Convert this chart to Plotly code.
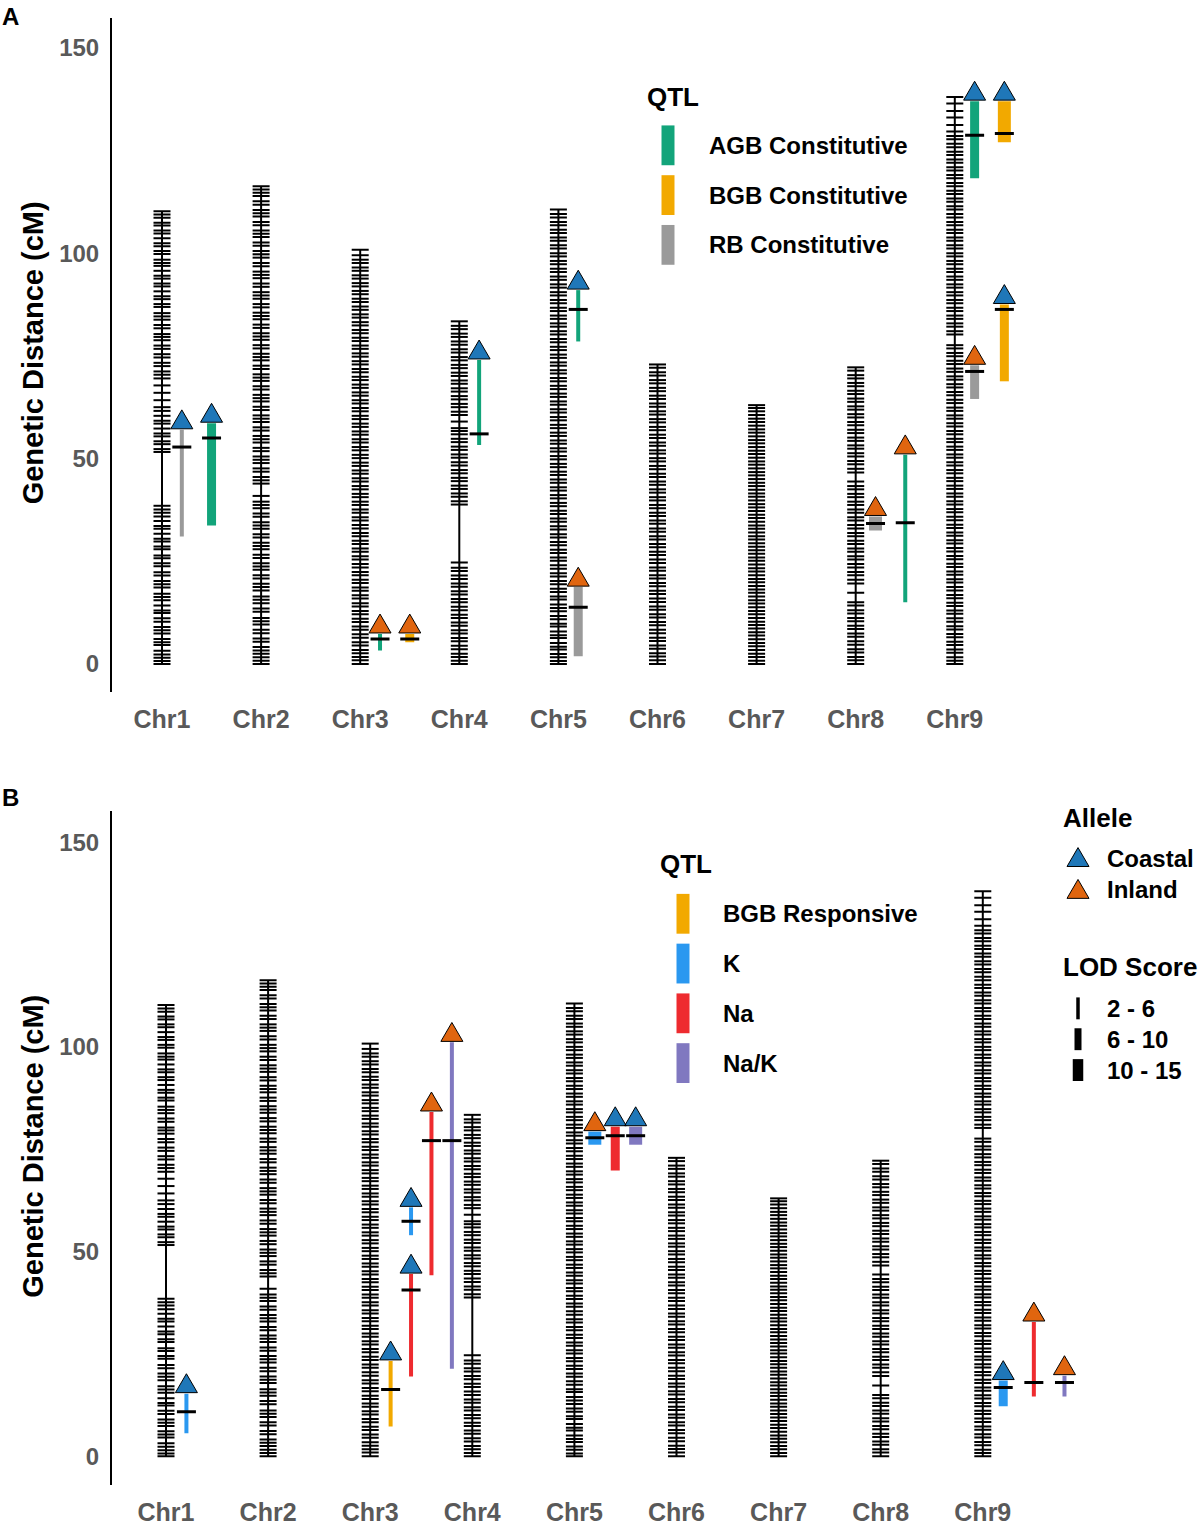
import plotly.graph_objects as go

CANVAS_W, CANVAS_H = 1199, 1526

# ---------------- data ----------------
chromosome_names = ["Chr1", "Chr2", "Chr3", "Chr4", "Chr5", "Chr6", "Chr7", "Chr8", "Chr9"]

chr1_markers = [0, 0.7, 1.5, 2.3, 3.2, 4.6, 5.3, 6.1, 7.4, 8.2, 9.0, 10.3, 11.1, 12.4, 13.0, 14.2, 15.5, 16.3,
                17.1, 18.6, 19.4, 20.2, 21.5, 22.3, 23.8, 24.5, 25.7, 26.4, 27.9, 28.6, 29.8, 30.5, 31.7, 32.9,
                33.6, 34.8, 35.9, 36.8, 37.6, 38.5, 51.6, 52.3, 53.5, 54.2, 55.4, 56.1, 57.3, 58.5, 59.2, 60.4,
                61.6, 62.5, 64.2, 66.0, 67.8, 69.5, 70.4, 71.2, 72.5, 73.3, 74.6, 75.4, 76.7, 77.5, 78.8, 79.6,
                80.3, 81.7, 82.5, 83.8, 84.6, 85.4, 86.9, 87.6, 88.8, 89.5, 90.7, 91.9, 92.6, 93.8, 94.5, 95.7,
                96.9, 97.6, 98.4, 99.8, 100.5, 101.7, 102.4, 103.6, 104.8, 105.5, 106.7, 107.4, 108.6, 109.4, 110.2]
chr2_markers = [0, 0.8, 1.6, 2.5, 3.3, 4.1, 5.4, 6.2, 7.5, 8.3, 9.6, 10.4, 11.2, 12.7, 13.5, 14.8, 15.6, 16.4,
                17.9, 18.7, 19.5, 20.8, 21.6, 22.9, 23.7, 24.5, 25.8, 26.6, 27.9, 28.7, 29.5, 30.8, 31.6, 32.9,
                33.7, 34.5, 35.8, 36.6, 37.9, 38.7, 39.5, 40.9, 43.9, 44.7, 45.5, 46.8, 47.6, 48.9, 49.7, 50.5,
                51.8, 52.6, 53.9, 54.7, 55.5, 56.8, 57.6, 58.9, 59.7, 60.5, 61.8, 62.6, 63.9, 64.7, 65.5, 66.8,
                67.6, 68.9, 69.7, 70.5, 71.8, 72.6, 73.9, 74.7, 75.5, 76.8, 77.6, 78.9, 79.7, 80.5, 81.8, 82.6,
                83.9, 84.7, 85.5, 86.8, 87.6, 88.9, 89.7, 90.5, 91.8, 92.6, 93.9, 94.7, 95.5, 96.8, 97.6, 98.9,
                99.7, 100.5, 101.8, 102.6, 103.9, 104.7, 105.5, 106.8, 107.6, 108.9, 109.7, 110.5, 111.8, 112.6,
                113.9, 114.7, 115.5, 116.3]
chr3_markers = [0, 0.9, 1.7, 2.6, 3.4, 4.5, 5.3, 6.4, 7.2, 8.3, 9.1, 10.2, 11.0, 12.1, 12.9, 14.0, 14.8, 15.9,
                16.7, 17.8, 18.6, 19.7, 20.5, 21.6, 22.4, 23.5, 24.3, 25.4, 26.2, 27.3, 28.1, 29.2, 30.0, 31.1,
                31.9, 33.0, 33.8, 34.9, 35.7, 36.8, 37.6, 38.7, 39.5, 40.6, 41.4, 42.5, 43.3, 44.4, 45.2, 46.3,
                47.1, 48.2, 49.0, 50.1, 50.9, 52.0, 52.8, 53.9, 54.7, 55.8, 56.6, 57.7, 58.5, 59.6, 60.4, 61.5,
                62.3, 63.4, 64.2, 65.3, 66.1, 67.2, 68.0, 69.1, 69.9, 71.0, 71.8, 72.9, 73.7, 74.8, 75.6, 76.7,
                77.5, 78.6, 79.4, 80.5, 81.3, 82.4, 83.2, 84.3, 85.1, 86.2, 87.0, 88.1, 88.9, 90.0, 90.8, 91.9,
                92.7, 93.8, 94.6, 95.7, 96.5, 97.6, 98.4, 99.5, 100.8]
chr4_markers = [0, 0.8, 1.7, 2.5, 3.6, 4.4, 5.5, 6.3, 7.4, 8.2, 9.3, 10.1, 11.2, 12.0, 13.1, 13.9, 15.0, 15.8,
                16.9, 17.7, 18.8, 19.6, 20.7, 21.5, 22.6, 23.4, 24.7, 38.8, 39.6, 40.7, 41.5, 42.6, 43.4, 44.5,
                45.3, 46.4, 47.2, 48.3, 49.1, 50.2, 51.0, 52.1, 52.9, 54.0, 54.8, 55.9, 56.7, 57.4, 59.0, 60.6,
                61.4, 62.5, 63.3, 64.4, 65.2, 66.3, 67.1, 68.2, 69.0, 70.1, 70.9, 72.0, 72.8, 73.9, 74.7, 75.8,
                76.6, 77.7, 78.5, 79.6, 80.4, 81.5, 82.3, 83.4]
chr5_markers = [0, 0.7, 1.6, 2.4, 3.5, 4.2, 5.1, 6.3, 7.0, 7.9, 9.1, 9.8, 10.9, 11.7, 12.8, 13.6, 14.5, 15.7,
                16.4, 17.5, 18.3, 19.4, 20.2, 21.3, 22.1, 23.2, 24.0, 25.1, 25.9, 27.0, 27.8, 28.9, 29.7, 30.8,
                31.6, 32.7, 33.5, 34.6, 35.4, 36.5, 37.3, 38.4, 39.2, 40.3, 41.1, 42.2, 43.0, 44.1, 44.9, 46.0,
                46.8, 47.9, 48.7, 49.8, 50.6, 51.7, 52.5, 53.6, 54.4, 55.5, 56.3, 57.4, 58.2, 59.3, 60.1, 61.2,
                62.0, 63.1, 63.9, 65.0, 65.8, 66.9, 67.7, 68.8, 69.6, 70.7, 71.5, 72.6, 73.4, 74.5, 75.3, 76.4,
                77.2, 78.3, 79.1, 80.2, 81.0, 82.1, 82.9, 84.0, 84.8, 85.9, 86.7, 87.8, 88.6, 89.7, 90.5, 91.6,
                92.4, 93.5, 94.3, 95.4, 96.2, 97.3, 98.1, 99.2, 100.0, 101.1, 101.9, 103.0, 103.8, 104.9, 105.7,
                106.8, 107.6, 108.7, 109.5, 110.6]
chr6_markers = [0, 0.9, 1.8, 2.6, 3.7, 4.5, 5.6, 6.4, 7.5, 8.3, 9.4, 10.2, 11.3, 12.1, 13.2, 14.0, 15.1, 15.9,
                17.0, 17.8, 18.9, 19.7, 20.8, 21.6, 22.7, 23.5, 24.6, 25.4, 26.5, 27.3, 28.4, 29.2, 30.3, 31.1,
                32.2, 33.0, 34.1, 34.9, 36.0, 36.8, 37.9, 38.7, 39.8, 40.6, 41.7, 42.5, 43.6, 44.4, 45.5, 46.3,
                47.4, 48.2, 49.3, 50.1, 51.2, 52.0, 53.1, 53.9, 55.0, 55.8, 56.9, 57.7, 58.8, 59.6, 60.7, 61.5,
                62.6, 63.4, 64.5, 65.3, 66.4, 67.2, 68.3, 69.1, 70.2, 71.0, 72.1, 72.9]
chr7_markers = [0, 0.8, 1.7, 2.5, 3.4, 4.3, 5.1, 6.0, 6.9, 7.7, 8.6, 9.5, 10.3, 11.2, 12.1, 12.9, 13.8, 14.7,
                15.5, 16.4, 17.3, 18.1, 19.0, 19.9, 20.7, 21.6, 22.5, 23.3, 24.2, 25.1, 25.9, 26.8, 27.7, 28.5,
                29.4, 30.3, 31.1, 32.0, 32.9, 33.7, 34.6, 35.5, 36.3, 37.2, 38.1, 38.9, 39.8, 40.7, 41.5, 42.4,
                43.3, 44.1, 45.0, 45.9, 46.7, 47.6, 48.5, 49.3, 50.2, 51.1, 51.9, 52.8, 53.7, 54.5, 55.4, 56.3,
                57.1, 58.0, 58.9, 59.7, 60.6, 61.5, 62.3, 63.0]
chr8_markers = [0, 0.9, 1.7, 2.8, 3.6, 4.7, 5.5, 6.6, 7.4, 8.5, 9.3, 10.4, 11.2, 12.3, 13.1, 14.2, 15.0, 17.3,
                19.6, 20.5, 21.6, 22.4, 23.5, 24.3, 25.4, 26.2, 27.3, 28.1, 29.2, 30.0, 31.1, 31.9, 33.0, 33.8,
                34.9, 35.7, 36.8, 37.6, 38.7, 39.5, 40.6, 41.4, 42.5, 43.3, 44.4, 46.6, 47.5, 48.6, 49.4, 50.5,
                51.3, 52.4, 53.2, 54.3, 55.1, 56.2, 57.0, 58.1, 58.9, 60.0, 60.8, 61.9, 62.7, 63.8, 64.6, 65.7,
                66.5, 67.6, 68.4, 69.5, 70.3, 71.4, 72.2]
chr9_markers = [0, 0.8, 1.6, 2.7, 3.5, 4.6, 5.4, 6.5, 7.3, 8.4, 9.2, 10.3, 11.1, 12.2, 13.0, 14.1, 14.9, 16.0,
                16.8, 17.9, 18.7, 19.8, 20.6, 21.7, 22.5, 23.6, 24.4, 25.5, 26.3, 27.4, 28.2, 29.3, 30.1, 31.2,
                32.0, 33.1, 33.9, 35.0, 35.8, 36.9, 37.7, 38.8, 39.6, 40.7, 41.5, 42.6, 43.4, 44.5, 45.3, 46.4,
                47.2, 48.3, 49.1, 50.2, 51.0, 52.1, 52.9, 54.0, 54.8, 55.9, 56.7, 57.8, 58.6, 59.7, 60.5, 61.6,
                62.4, 63.5, 64.3, 65.4, 66.2, 67.3, 68.1, 69.2, 70.0, 71.1, 71.9, 73.0, 73.8, 74.9, 75.7, 76.8,
                77.6, 80.2, 81.0, 82.1, 82.9, 84.0, 84.8, 85.9, 86.7, 87.8, 88.6, 89.7, 90.5, 91.6, 92.4, 93.5,
                94.3, 95.4, 96.2, 97.3, 98.1, 99.2, 100.0, 101.1, 101.9, 103.0, 103.8, 104.9, 105.7, 106.8,
                107.6, 108.7, 109.5, 110.6, 111.4, 112.5, 113.3, 114.4, 115.2, 116.3, 117.1, 118.2, 119.0,
                120.1, 120.9, 122.0, 122.8, 123.9, 124.7, 125.8, 126.6, 127.7, 128.5, 129.6, 131.2, 133.0,
                134.6, 136.4, 138.0]
all_markers = [chr1_markers, chr2_markers, chr3_markers, chr4_markers, chr5_markers,
               chr6_markers, chr7_markers, chr8_markers, chr9_markers]

# Panel A QTL (constitutive)
qtlA_chrom = [1, 1, 3, 3, 4, 5, 5, 8, 8, 9, 9, 9, 9]
qtlA_lane = [1, 2, 1, 2, 1, 1, 1, 1, 2, 1, 2, 1, 2]
qtlA_trait = ["RB", "AGB", "AGB", "BGB", "AGB", "AGB", "RB", "RB", "AGB", "AGB", "BGB", "RB", "BGB"]
qtlA_allele = ["Coastal", "Coastal", "Inland", "Inland", "Coastal", "Coastal", "Inland", "Inland", "Inland",
               "Coastal", "Coastal", "Inland", "Coastal"]
qtlA_low = [31.0, 33.7, 3.3, 5.3, 53.3, 78.5, 1.9, 32.5, 15.0, 118.2, 127.0, 64.5, 68.8]
qtlA_high = [57.0, 58.6, 7.3, 7.3, 74.0, 91.0, 18.7, 35.9, 50.9, 137.0, 137.0, 72.7, 87.5]
qtlA_peak = [52.8, 55.0, 6.1, 6.1, 56.0, 86.3, 13.8, 34.2, 34.4, 128.7, 129.1, 71.2, 86.3]
qtlA_lod = ["2 - 6", "6 - 10", "2 - 6", "6 - 10", "2 - 6", "2 - 6", "6 - 10", "10 - 15", "2 - 6",
            "6 - 10", "10 - 15", "6 - 10", "6 - 10"]

# Panel B QTL (responsive / ions)
qtlB_chrom = [1, 3, 3, 3, 3, 3, 5, 5, 5, 9, 9, 9]
qtlB_lane = [1, 1, 2, 2, 3, 4, 1, 2, 3, 1, 2.5, 4]
qtlB_trait = ["K", "BGB", "K", "Na", "Na", "Na/K", "K", "Na", "Na/K", "K", "Na", "Na/K"]
qtlB_allele = ["Coastal", "Coastal", "Coastal", "Coastal", "Inland", "Inland", "Inland", "Coastal", "Coastal",
               "Coastal", "Inland", "Inland"]
qtlB_low = [5.6, 7.3, 54.0, 19.5, 44.2, 21.4, 76.1, 69.8, 76.1, 12.2, 14.6, 14.6]
qtlB_high = [15.3, 23.3, 60.8, 44.5, 84.1, 101.1, 79.3, 80.5, 80.5, 18.5, 32.8, 19.7]
qtlB_peak = [10.9, 16.3, 57.4, 40.6, 77.1, 77.1, 77.8, 78.3, 78.3, 16.8, 18.0, 18.0]
qtlB_lod = ["2 - 6", "2 - 6", "2 - 6", "2 - 6", "2 - 6", "2 - 6", "10 - 15", "6 - 10", "10 - 15",
            "6 - 10", "2 - 6", "2 - 6"]

legendA_traits = ["AGB", "BGB", "RB"]
legendA_labels = ["AGB Constitutive", "BGB Constitutive", "RB Constitutive"]
legendB_traits = ["BGB", "K", "Na", "Na/K"]
legendB_labels = ["BGB Responsive", "K", "Na", "Na/K"]
allele_labels = ["Coastal", "Inland"]
lod_labels = ["2 - 6", "6 - 10", "10 - 15"]
y_ticks = [0, 50, 100, 150]

# ---------------- styles ----------------
trait_colors = {"AGB": "#12A47A", "BGB": "#F2A900", "RB": "#9A9A9A",
                "K": "#2A98F0", "Na": "#EE2B2F", "Na/K": "#8078C0"}
allele_colors = {"Coastal": "#1F77B8", "Inland": "#E0650F"}
lod_width_px = {"2 - 6": 4, "6 - 10": 9, "10 - 15": 13}
lod_legend_w = {"2 - 6": 3.5, "6 - 10": 7, "10 - 15": 10.5}
FONT = "Liberation Sans, Arial, sans-serif"

# panel geometry (pixels on the canvas)
geom = {
    "A": dict(xa="x", ya="y", left=112, right=1199, top=18, bottom=695, chr1=162, unit=99.1,
              zero=667, cm=4.127, lane0=0.2, lane_step=0.3),
    "B": dict(xa="x2", ya="y2", left=112, right=1199, top=815, bottom=1492, chr1=166, unit=102.1,
              zero=1463, cm=4.113, lane0=0.2, lane_step=0.2),
}


def px(x):
    return x / CANVAS_W


def py(y):
    return 1 - y / CANVAS_H


fig = go.Figure()


def add_panel(g, chrom, lane, trait, allele, low, high, peak, lod):
    xa, ya = g["xa"], g["ya"]
    # chromosomes: backbone + marker ticks
    bx, by, tx, ty = [], [], [], []
    hw = 8.5 / g["unit"]
    for i, mk in enumerate(all_markers):
        c = i + 1
        bx += [c, c, None]
        by += [min(mk), max(mk), None]
        for m in mk:
            tx += [c - hw, c + hw, None]
            ty += [m, m, None]
    fig.add_trace(go.Scatter(x=bx, y=by, mode="lines", line=dict(color="black", width=2),
                             xaxis=xa, yaxis=ya, hoverinfo="skip", showlegend=False))
    fig.add_trace(go.Scatter(x=tx, y=ty, mode="lines", line=dict(color="black", width=2),
                             xaxis=xa, yaxis=ya, hoverinfo="skip", showlegend=False))
    # QTL bars
    xs = [c + g["lane0"] + g["lane_step"] * (l - 1) for c, l in zip(chrom, lane)]
    for x, t, lo, hi, w in zip(xs, trait, low, high, lod):
        fig.add_trace(go.Scatter(x=[x, x], y=[lo, hi], mode="lines",
                                 line=dict(color=trait_colors[t], width=lod_width_px[w]),
                                 xaxis=xa, yaxis=ya, hoverinfo="skip", showlegend=False))
    # peak markers
    pw = 9.5 / g["unit"]
    pkx, pky = [], []
    for x, p in zip(xs, peak):
        pkx += [x - pw, x + pw, None]
        pky += [p, p, None]
    fig.add_trace(go.Scatter(x=pkx, y=pky, mode="lines", line=dict(color="black", width=3),
                             xaxis=xa, yaxis=ya, hoverinfo="skip", showlegend=False))
    # allele triangles
    thw = 11 / g["unit"]
    th = 19 / g["cm"]
    gap = 1.0 / g["cm"]
    for al in allele_labels:
        trx, tr_y = [], []
        for x, a, hi in zip(xs, allele, high):
            if a != al:
                continue
            yb = hi + gap
            trx += [x - thw, x + thw, x, x - thw, None]
            tr_y += [yb, yb, yb + th, yb, None]
        fig.add_trace(go.Scatter(x=trx, y=tr_y, mode="lines", fill="toself",
                                 fillcolor=allele_colors[al], line=dict(color="black", width=1),
                                 xaxis=xa, yaxis=ya, hoverinfo="skip", showlegend=False))


add_panel(geom["A"], qtlA_chrom, qtlA_lane, qtlA_trait, qtlA_allele, qtlA_low, qtlA_high, qtlA_peak, qtlA_lod)
add_panel(geom["B"], qtlB_chrom, qtlB_lane, qtlB_trait, qtlB_allele, qtlB_low, qtlB_high, qtlB_peak, qtlB_lod)


def axis_layout(g):
    xr = [1 - (g["chr1"] - g["left"]) / g["unit"], 1 + (g["right"] - g["chr1"]) / g["unit"]]
    yr = [-(g["bottom"] - g["zero"]) / g["cm"], (g["zero"] - g["top"]) / g["cm"]]
    xaxis = dict(domain=[px(g["left"]), px(g["right"])], range=xr, showgrid=False, zeroline=False,
                 showline=False, ticks="", tickvals=list(range(1, 10)), ticktext=chromosome_names,
                 tickfont=dict(family=FONT, size=25, color="#595959", weight="bold"),
                 ticklabelstandoff=10, fixedrange=True)
    yaxis = dict(domain=[py(g["bottom"]), py(g["top"])], range=yr, showgrid=False, zeroline=False,
                 showline=True, linecolor="black", linewidth=2, ticks="", tickvals=y_ticks,
                 tickfont=dict(family=FONT, size=24, color="#595959", weight="bold"),
                 ticklabelstandoff=6, fixedrange=True)
    return xaxis, yaxis


xA, yA = axis_layout(geom["A"])
xB, yB = axis_layout(geom["B"])
xB["anchor"] = "y2"
yB["anchor"] = "x2"
xA["anchor"] = "y"
yA["anchor"] = "x"

shapes = []
annotations = []


def text(x, y, s, size, color="black", anchor="left", angle=0):
    annotations.append(dict(x=px(x), y=py(y), xref="paper", yref="paper", text=s, showarrow=False,
                            xanchor=anchor, yanchor="middle", textangle=angle,
                            font=dict(family=FONT, size=size, color=color, weight="bold")))


def rect(cx, cy, w, h, color):
    shapes.append(dict(type="rect", xref="paper", yref="paper", x0=px(cx - w / 2), x1=px(cx + w / 2),
                       y0=py(cy + h / 2), y1=py(cy - h / 2), fillcolor=color, line=dict(width=0)))


def tri(cx, cy, w, h, color):
    path = "M {} {} L {} {} L {} {} Z".format(px(cx - w / 2), py(cy + h / 2), px(cx + w / 2), py(cy + h / 2),
                                             px(cx), py(cy - h / 2))
    shapes.append(dict(type="path", xref="paper", yref="paper", path=path, fillcolor=color,
                       line=dict(color="black", width=1)))


# panel letters and axis titles
text(0, 17, "A", 24)
text(0, 801, "B", 24)
text(33, 355, "Genetic Distance (cM)", 29, anchor="center", angle=-90)
text(33, 1152, "Genetic Distance (cM)", 29, anchor="center", angle=-90)

# Legend panel A
text(645, 97, "QTL", 26)
for i, (t, lab) in enumerate(zip(legendA_traits, legendA_labels)):
    cy = 146 + 50 * i
    rect(668, cy, 13, 40, trait_colors[t])
    text(707, cy, lab, 24)

# Legend panel B
text(658, 868, "QTL", 26)
for i, (t, lab) in enumerate(zip(legendB_traits, legendB_labels)):
    cy = 918 + 50 * i
    rect(683, cy, 13, 40, trait_colors[t])
    text(721, cy, lab, 24)

text(1061, 822, "Allele", 26)
for i, al in enumerate(allele_labels):
    cy = 861 + 32 * i
    tri(1078, cy, 22, 19, allele_colors[al])
    text(1105, cy + 1, al, 24)

text(1061, 971, "LOD Score", 26)
for i, lab in enumerate(lod_labels):
    cy = 1013 + 31 * i
    rect(1078, cy, lod_legend_w[lab], 22, "black")
    text(1105, cy, lab, 24)

fig.update_layout(
    width=CANVAS_W, height=CANVAS_H, autosize=False,
    margin=dict(l=0, r=0, t=0, b=0, pad=0),
    paper_bgcolor="white", plot_bgcolor="white",
    xaxis=xA, yaxis=yA, xaxis2=xB, yaxis2=yB,
    shapes=shapes, annotations=annotations, showlegend=False,
    font=dict(family=FONT),
)

fig.write_html("out.html", config={"displayModeBar": False},
               post_script="document.body.style.margin='0';document.body.style.overflow='hidden';")
